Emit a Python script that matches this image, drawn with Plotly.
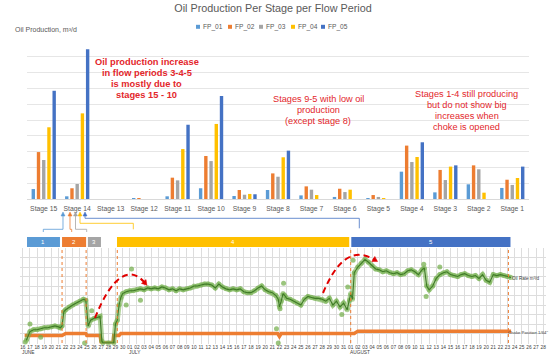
import plotly.graph_objects as go
import pandas as pd

W, H = 553, 359
FONT = "Liberation Sans, Arial, sans-serif"
GREY_TXT = "#595959"
RED = "#E3262B"


def px(x):
    return x / W


def py(y):
    return 1 - y / H


# ---------------- top chart data ----------------
stages = ["Stage 15", "Stage 14", "Stage 13", "Stage 12", "Stage 11", "Stage 10", "Stage 9",
          "Stage 8", "Stage 7", "Stage 6", "Stage 5", "Stage 4", "Stage 3", "Stage 2", "Stage 1"]
fp_names = ["FP_01", "FP_02", "FP_03", "FP_04", "FP_05"]
fp_colors = ["#5B9BD5", "#ED7D31", "#A5A5A5", "#FFC000", "#4472C4"]
fp_01 = [0.63, 0.17, 0.00, 0.06, 0.17, 0.68, 0.19, 0.57, 0.23, 0.13, 0.06, 1.73, 0.42, 0.93, 0.70]
fp_02 = [2.97, 0.68, 0.00, 0.06, 1.35, 2.72, 0.57, 1.62, 0.80, 0.65, 0.25, 3.38, 1.84, 2.13, 1.22]
fp_03 = [2.47, 0.95, 0.00, 0.00, 1.18, 2.40, 0.27, 1.41, 0.59, 0.44, 0.13, 2.34, 1.20, 1.88, 0.89]
fp_04 = [4.54, 5.42, 0.00, 0.00, 3.16, 4.75, 0.32, 2.64, 0.25, 0.59, 0.06, 2.66, 2.05, 0.40, 1.33]
fp_05 = [6.85, 9.47, 0.00, 0.00, 4.70, 6.52, 0.30, 3.06, 0.00, 0.00, 0.00, 3.59, 2.13, 0.00, 2.05]
fp_values = [fp_01, fp_02, fp_03, fp_04, fp_05]

# ---------------- bottom chart data ----------------
oil_time = [
    "2019-06-16 12:00", "2019-06-17 00:00", "2019-06-17 12:00", "2019-06-18 00:00", "2019-06-18 12:00",
    "2019-06-19 00:00", "2019-06-19 12:00", "2019-06-20 00:00", "2019-06-20 12:00", "2019-06-21 00:00",
    "2019-06-21 06:00", "2019-06-21 12:00", "2019-06-21 18:00", "2019-06-22 00:00", "2019-06-22 12:00",
    "2019-06-23 00:00", "2019-06-23 12:00", "2019-06-24 00:00", "2019-06-24 12:00", "2019-06-24 20:00",
    "2019-06-25 04:00", "2019-06-25 12:00", "2019-06-26 00:00", "2019-06-26 12:00", "2019-06-26 20:00",
    "2019-06-27 02:00", "2019-06-27 06:00", "2019-06-28 00:00", "2019-06-28 18:00", "2019-06-29 00:00",
    "2019-06-29 06:00", "2019-06-29 12:00", "2019-06-29 18:00", "2019-06-30 00:00", "2019-06-30 12:00",
    "2019-07-01 00:00", "2019-07-01 12:00", "2019-07-02 00:00", "2019-07-02 12:00", "2019-07-03 00:00",
    "2019-07-03 12:00", "2019-07-04 00:00", "2019-07-04 12:00", "2019-07-05 00:00", "2019-07-05 12:00",
    "2019-07-06 00:00", "2019-07-06 12:00", "2019-07-07 00:00", "2019-07-07 12:00", "2019-07-08 00:00",
    "2019-07-08 12:00", "2019-07-09 00:00", "2019-07-09 12:00", "2019-07-10 00:00", "2019-07-10 12:00",
    "2019-07-11 00:00", "2019-07-11 12:00", "2019-07-12 00:00", "2019-07-12 12:00", "2019-07-13 00:00",
    "2019-07-13 12:00", "2019-07-14 00:00", "2019-07-14 12:00", "2019-07-15 00:00", "2019-07-15 12:00",
    "2019-07-16 00:00", "2019-07-16 12:00", "2019-07-17 00:00", "2019-07-17 12:00", "2019-07-18 00:00",
    "2019-07-18 12:00", "2019-07-19 00:00", "2019-07-19 12:00", "2019-07-20 00:00", "2019-07-20 12:00",
    "2019-07-21 00:00", "2019-07-21 12:00", "2019-07-21 20:00", "2019-07-22 00:00", "2019-07-22 06:00",
    "2019-07-22 12:00", "2019-07-22 18:00", "2019-07-23 00:00", "2019-07-23 12:00", "2019-07-24 00:00",
    "2019-07-24 12:00", "2019-07-25 00:00", "2019-07-25 12:00", "2019-07-26 00:00", "2019-07-26 12:00",
    "2019-07-27 00:00", "2019-07-27 12:00", "2019-07-28 00:00", "2019-07-28 12:00", "2019-07-29 00:00",
    "2019-07-29 12:00", "2019-07-30 00:00", "2019-07-30 12:00", "2019-07-31 00:00", "2019-07-31 12:00",
    "2019-07-31 20:00", "2019-08-01 00:00", "2019-08-01 06:00", "2019-08-01 12:00", "2019-08-02 00:00",
    "2019-08-02 12:00", "2019-08-03 00:00", "2019-08-03 12:00", "2019-08-04 00:00", "2019-08-04 12:00",
    "2019-08-05 00:00", "2019-08-05 12:00", "2019-08-06 00:00", "2019-08-06 12:00", "2019-08-07 00:00",
    "2019-08-07 12:00", "2019-08-08 00:00", "2019-08-08 12:00", "2019-08-09 00:00", "2019-08-09 12:00",
    "2019-08-10 00:00", "2019-08-10 12:00", "2019-08-11 00:00", "2019-08-11 08:00", "2019-08-11 16:00",
    "2019-08-12 00:00", "2019-08-12 12:00", "2019-08-13 00:00", "2019-08-13 12:00", "2019-08-14 00:00",
    "2019-08-14 12:00", "2019-08-15 00:00", "2019-08-15 12:00", "2019-08-16 00:00", "2019-08-16 12:00",
    "2019-08-17 00:00", "2019-08-17 12:00", "2019-08-18 00:00", "2019-08-18 12:00", "2019-08-19 00:00",
    "2019-08-19 12:00", "2019-08-20 00:00", "2019-08-20 12:00", "2019-08-21 00:00", "2019-08-21 12:00",
    "2019-08-22 00:00", "2019-08-22 12:00", "2019-08-23 00:00", "2019-08-23 12:00",
]
oil_rate = [
    3, 12, 14, 14, 15,
    16, 16, 17, 18, 17,
    16, 18, 33, 35, 38,
    40, 42, 44, 46, 45,
    18, 24, 26, 27, 28,
    2, 0, 0, 0, 20,
    24, 40, 48, 52, 54,
    55, 55, 56, 57, 56,
    58, 57, 58, 57, 59,
    58, 56, 57, 55, 57,
    56, 57, 58, 60, 60,
    61, 62, 62, 61, 58,
    62, 59, 57, 56, 57,
    56, 57, 54, 53, 53,
    55, 58, 60, 56, 54,
    53, 50, 46, 38, 44,
    52, 50, 47, 46, 44,
    42, 40, 46, 49, 48,
    47, 47, 46, 44, 47,
    40, 44, 38, 42, 35,
    45, 52, 46, 74, 80,
    84, 88, 85, 81, 78,
    77, 75, 76, 74, 73,
    74, 72, 73, 76, 77,
    75, 72, 77, 79, 60,
    56, 60, 68, 72, 74,
    75, 72, 71, 70, 72,
    73, 71, 70, 71, 68,
    72, 66, 64, 72, 71,
    72, 71, 70, 69,
]
# scattered individual readings away from the trend
outlier_time = ["2019-06-16 08:00", "2019-06-17 00:00", "2019-06-18 12:00", "2019-06-24 16:00",
                "2019-06-25 16:00", "2019-06-30 12:00", "2019-07-01 06:00", "2019-07-02 12:00",
                "2019-07-21 14:00", "2019-07-21 20:00", "2019-07-22 02:00", "2019-07-22 14:00",
                "2019-07-30 18:00", "2019-07-31 14:00", "2019-08-01 08:00", "2019-08-11 06:00",
                "2019-08-11 14:00", "2019-08-13 12:00"]
outlier_rate = [1, 20, 6, 0, 34, 40, 78, 45, 15, 0, 36, 63, 30, 59, 87, 83, 49, 80]

choke_time = ["2019-06-16 06:00", "2019-06-21 12:00", "2019-06-22 00:00", "2019-06-24 20:00",
              "2019-06-25 00:00", "2019-06-26 20:00", "2019-06-27 00:00", "2019-06-28 16:00",
              "2019-06-28 18:00", "2019-06-29 12:00", "2019-06-29 18:00", "2019-07-21 18:00",
              "2019-07-22 00:00", "2019-07-22 06:00", "2019-08-01 12:00", "2019-08-02 00:00",
              "2019-08-23 12:00"]
choke_pos = [8, 8, 10, 10, 8, 8, 0, 0, 8, 8, 10, 10, 7, 10, 10, 12.5, 12.5]

period_labels = ["1", "2", "3", "4", "5"]
period_start = ["2019-06-16 14:00", "2019-06-21 12:00", "2019-06-25 03:00", "2019-06-29 05:00", "2019-08-01 02:00"]
period_end = ["2019-06-21 05:00", "2019-06-24 21:00", "2019-06-26 23:00", "2019-07-31 19:00", "2019-08-23 10:00"]
period_colors = ["#5B9BD5", "#ED7D31", "#A5A5A5", "#FFC000", "#4472C4"]
period_bounds = ["2019-06-21 12:00", "2019-06-24 21:00", "2019-06-29 06:00", "2019-08-01 00:00", "2019-08-23 03:00"]

fig = go.Figure()

for name, vals, col in zip(fp_names, fp_values, fp_colors):
    fig.add_trace(go.Bar(x=stages, y=vals, name=name, marker=dict(color=col, line=dict(width=0)),
                         xaxis="x", yaxis="y", showlegend=False))

fig.add_trace(go.Scatter(x=choke_time, y=choke_pos, mode="lines", xaxis="x2", yaxis="y2",
                         line=dict(color="#ED7D31", width=3.5), showlegend=False, cliponaxis=False))
fig.add_trace(go.Scatter(x=oil_time, y=oil_rate, mode="lines+markers", xaxis="x2", yaxis="y2",
                         line=dict(color="rgba(112,173,71,0.55)", width=5), cliponaxis=False,
                         marker=dict(color="rgba(112,173,71,0.55)", size=5), showlegend=False))
fig.add_trace(go.Scatter(x=outlier_time, y=outlier_rate, mode="markers", xaxis="x2", yaxis="y2",
                         marker=dict(color="rgba(112,173,71,0.7)", size=5), showlegend=False,
                         cliponaxis=False))
fig.add_trace(go.Scatter(x=oil_time, y=oil_rate, mode="lines", xaxis="x2", yaxis="y2",
                         line=dict(color="#3F7A27", width=1.1), showlegend=False, cliponaxis=False))

shapes = []
annotations = []

# legend (manual, compact like the original)
leg_x = [198, 230, 261, 293, 323]
for lx, name, col in zip(leg_x, fp_names, fp_colors):
    shapes.append(dict(type="rect", xref="paper", yref="paper", x0=px(lx - 2), x1=px(lx + 2),
                       y0=py(28.8), y1=py(24.8), fillcolor=col, line=dict(width=0)))
    annotations.append(dict(x=px(lx + 3), y=py(27), xref="paper", yref="paper", text=name,
                            showarrow=False, xanchor="left", yanchor="middle",
                            font=dict(size=6.6, color=GREY_TXT, family=FONT)))

annotations.append(dict(x=px(13), y=py(30), xref="paper", yref="paper", text="Oil Production, m³/d",
                        showarrow=False, xanchor="left", yanchor="middle",
                        font=dict(size=7, color=GREY_TXT, family=FONT)))


# red comments
def red_lines(lines, cx, ys, bold, size):
    for t, yy in zip(lines, ys):
        annotations.append(dict(x=px(cx), y=py(yy), xref="paper", yref="paper",
                                text=f"<b>{t}</b>" if bold else t, showarrow=False,
                                xanchor="center", yanchor="middle",
                                font=dict(size=size, color=RED, family=FONT)))


red_lines(["Oil production increase", "in flow periods 3-4-5", "is mostly due to", "stages 15 - 10"],
          146.7, [61.7, 72.7, 83.5, 94.5], True, 9.3)
red_lines(["Stages 9-5 with low oil", "production", "(except stage 8)"],
          318, [99.3, 110, 120.5], False, 9.2)
red_lines(["Stages 1-4 still producing", "but do not show big", "increases when", "choke is opened"],
          466.7, [94, 105.2, 116, 126.7], False, 9.2)

# flow period boxes
for lab, s, e, col in zip(period_labels, period_start, period_end, period_colors):
    shapes.append(dict(type="rect", xref="x2", yref="paper", x0=s, x1=e, y0=py(247), y1=py(237),
                       fillcolor=col, line=dict(width=0)))
    mid = pd.Timestamp(s) + (pd.Timestamp(e) - pd.Timestamp(s)) / 2
    annotations.append(dict(x=mid.strftime("%Y-%m-%d %H:%M:%S"), y=py(242), xref="x2", yref="paper",
                            text=lab, showarrow=False, xanchor="center", yanchor="middle",
                            font=dict(size=6, color="white", family=FONT)))

for b in period_bounds:
    shapes.append(dict(type="line", xref="x2", yref="paper", x0=b, x1=b, y0=py(343), y1=py(248),
                       line=dict(color="#ED7D31", width=1, dash="dot")))

# connectors from stage 14 markers to flow-period boxes
conn = [
    ("#5B9BD5", [(63, 216), (63, 229.3), (43.3, 229.3), (43.3, 232)]),
    ("#ED7D31", [(70, 216), (70, 229.3), (71.7, 229.3), (71.7, 232)]),
    ("#A5A5A5", [(75.5, 216), (75.5, 229.3), (86.7, 229.3), (86.7, 232)]),
    ("#FFC000", [(80, 216), (80, 223.3), (133.3, 223.3), (133.3, 229.3)]),
    ("#4472C4", [(85, 216), (85, 218.3), (359.3, 218.3), (359.3, 228.3)]),
]
for col, pts in conn:
    path = "M" + " L".join(f"{px(a):.5f},{py(b):.5f}" for a, b in pts)
    shapes.append(dict(type="path", xref="paper", yref="paper", path=path,
                       line=dict(color=col, width=0.8)))
    tx, ty = pts[0]
    tri = f"M{px(tx - 2):.5f},{py(ty):.5f} L{px(tx + 2):.5f},{py(ty):.5f} L{px(tx):.5f},{py(ty - 4):.5f} Z"
    shapes.append(dict(type="path", xref="paper", yref="paper", path=tri, fillcolor=col,
                       line=dict(color=col, width=0.5)))


# dashed red curved arrows
def curved_arrow(p0, c1, c2, p1):
    path = (f"M{px(p0[0]):.5f},{py(p0[1]):.5f} C{px(c1[0]):.5f},{py(c1[1]):.5f} "
            f"{px(c2[0]):.5f},{py(c2[1]):.5f} {px(p1[0]):.5f},{py(p1[1]):.5f}")
    shapes.append(dict(type="path", xref="paper", yref="paper", path=path,
                       line=dict(color="#E00000", width=2, dash="6px,4px")))
    dx, dy = p1[0] - c2[0], p1[1] - c2[1]
    n = (dx * dx + dy * dy) ** 0.5
    dx, dy = dx / n, dy / n
    tip = (p1[0] + dx * 3, p1[1] + dy * 3)
    base = (p1[0] - dx * 2, p1[1] - dy * 2)
    nx, ny = -dy, dx
    a = (base[0] + nx * 3, base[1] + ny * 3)
    b = (base[0] - nx * 3, base[1] - ny * 3)
    tri = (f"M{px(tip[0]):.5f},{py(tip[1]):.5f} L{px(a[0]):.5f},{py(a[1]):.5f} "
           f"L{px(b[0]):.5f},{py(b[1]):.5f} Z")
    shapes.append(dict(type="path", xref="paper", yref="paper", path=tri, fillcolor="#E00000",
                       line=dict(color="#E00000", width=0.5)))


curved_arrow((95, 318), (112, 275), (130, 265), (145, 283))
curved_arrow((323, 293), (335, 265), (350, 245), (375, 260))

# bottom labels
annotations.append(dict(x=px(510), y=py(278.5), xref="paper", yref="paper", text="Oil Rate m³/d",
                        showarrow=False, xanchor="left", yanchor="middle",
                        font=dict(size=4.6, color="#404040", family=FONT)))
annotations.append(dict(x=px(506), y=py(332), xref="paper", yref="paper", text="Choke Position 1/64\"",
                        showarrow=False, xanchor="left", yanchor="middle",
                        font=dict(size=4.3, color="#404040", family=FONT)))
for m, d in [("JUNE", "2019-06-16"), ("JULY", "2019-07-01"), ("AUGUST", "2019-08-01")]:
    annotations.append(dict(x=d, y=py(352.5), xref="x2", yref="paper", text=m, showarrow=False,
                            xanchor="left", yanchor="middle", xshift=-2.5,
                            font=dict(size=4.8, color="#404040", family=FONT)))

fig.update_layout(
    width=W, height=H, margin=dict(l=0, r=0, t=0, b=0),
    paper_bgcolor="white", plot_bgcolor="white",
    font=dict(family=FONT, color=GREY_TXT),
    title=dict(text="Oil Production Per Stage per Flow Period", x=px(273), xanchor="center",
               y=py(8.5), yanchor="middle", font=dict(size=10.8, color=GREY_TXT, family=FONT)),
    barmode="group", bargap=0.22, bargroupgap=0.35,
    xaxis=dict(domain=[px(27), px(529)], anchor="y", showgrid=False, showline=True,
               linecolor="#D9D9D9", linewidth=1, ticks="", tickangle=0,
               tickfont=dict(size=6.8, color=GREY_TXT, family=FONT), ticklabelstandoff=3),
    yaxis=dict(domain=[py(199), py(41)], anchor="x", range=[0, 10], dtick=1,
               showgrid=True, gridcolor="#E6E6E6", gridwidth=1, zeroline=False,
               showticklabels=False),
    xaxis2=dict(domain=[px(20), px(546)], anchor="y2", type="date",
                range=["2019-06-15 14:24", "2019-08-28 09:36"],
                tick0="2019-06-16", dtick=86400000, tickformat="%d", tickangle=0,
                showgrid=True, gridcolor="#DDDDDD", gridwidth=0.6, ticks="",
                tickfont=dict(size=4.8, color="#404040", family=FONT), ticklabelstandoff=0,
                showline=False, zeroline=False),
    yaxis2=dict(domain=[py(343.5), py(248)], anchor="x2", range=[-0.5, 100], dtick=10, tick0=0,
                showgrid=True, gridcolor="#DDDDDD", gridwidth=0.6, zeroline=False,
                showticklabels=False),
    shapes=shapes, annotations=annotations,
)

fig.write_html("out.html", config={"displayModeBar": False},
               post_script="document.body.style.margin='0';document.body.style.padding='0';")
